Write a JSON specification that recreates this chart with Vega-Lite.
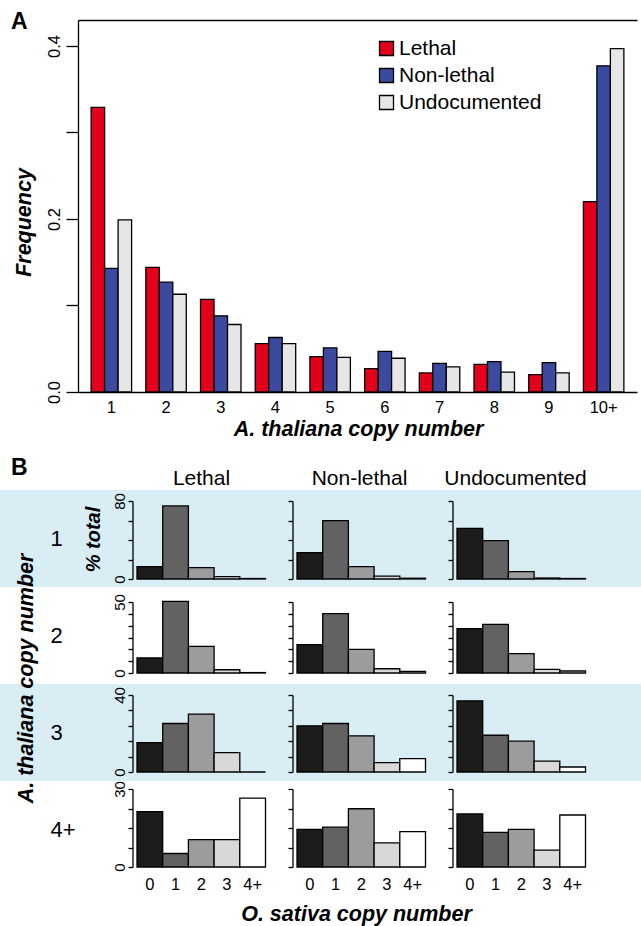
{
  "$schema": "https://vega.github.io/schema/vega-lite/v6.json",
  "width": 641,
  "height": 926,
  "autosize": {"type": "none"},
  "padding": 0,
  "background": "white",
  "config": {
    "font": "Liberation Sans",
    "view": {"stroke": null},
    "axis": {"labelColor": "black", "titleColor": "black", "domainColor": "black", "tickColor": "black", "domainWidth": 1.3, "tickWidth": 1.3, "grid": false, "labelOverlap": false, "labelFlush": false, "labelBound": false, "zindex": 1},
    "legend": {"labelColor": "black"},
    "title": {"color": "black", "subtitleColor": "black"}
  },
  "title": {"text": "A", "subtitle": "B", "anchor": "start", "frame": "group", "offset": 0, "fontSize": 23, "fontWeight": "bold", "subtitleFontSize": 23, "subtitleFontWeight": "bold", "subtitlePadding": 423, "dx": 11, "dy": 480},
  "datasets": {
    "shading": [{"thaliana": "1"}, {"thaliana": "3"}],
    "freq": [
      {"copy": "1", "status": "Lethal", "frequency": 0.329},
      {"copy": "1", "status": "Non-lethal", "frequency": 0.143},
      {"copy": "1", "status": "Undocumented", "frequency": 0.199},
      {"copy": "2", "status": "Lethal", "frequency": 0.144},
      {"copy": "2", "status": "Non-lethal", "frequency": 0.127},
      {"copy": "2", "status": "Undocumented", "frequency": 0.113},
      {"copy": "3", "status": "Lethal", "frequency": 0.107},
      {"copy": "3", "status": "Non-lethal", "frequency": 0.088},
      {"copy": "3", "status": "Undocumented", "frequency": 0.078},
      {"copy": "4", "status": "Lethal", "frequency": 0.056},
      {"copy": "4", "status": "Non-lethal", "frequency": 0.063},
      {"copy": "4", "status": "Undocumented", "frequency": 0.056},
      {"copy": "5", "status": "Lethal", "frequency": 0.041},
      {"copy": "5", "status": "Non-lethal", "frequency": 0.051},
      {"copy": "5", "status": "Undocumented", "frequency": 0.040},
      {"copy": "6", "status": "Lethal", "frequency": 0.027},
      {"copy": "6", "status": "Non-lethal", "frequency": 0.047},
      {"copy": "6", "status": "Undocumented", "frequency": 0.039},
      {"copy": "7", "status": "Lethal", "frequency": 0.022},
      {"copy": "7", "status": "Non-lethal", "frequency": 0.033},
      {"copy": "7", "status": "Undocumented", "frequency": 0.029},
      {"copy": "8", "status": "Lethal", "frequency": 0.032},
      {"copy": "8", "status": "Non-lethal", "frequency": 0.035},
      {"copy": "8", "status": "Undocumented", "frequency": 0.023},
      {"copy": "9", "status": "Lethal", "frequency": 0.020},
      {"copy": "9", "status": "Non-lethal", "frequency": 0.034},
      {"copy": "9", "status": "Undocumented", "frequency": 0.022},
      {"copy": "10+", "status": "Lethal", "frequency": 0.220},
      {"copy": "10+", "status": "Non-lethal", "frequency": 0.377},
      {"copy": "10+", "status": "Undocumented", "frequency": 0.397}
    ],
    "dist": [
      {"thaliana": "1", "status": "Lethal", "sativa": "0", "percent": 12.6},
      {"thaliana": "1", "status": "Lethal", "sativa": "1", "percent": 74.9},
      {"thaliana": "1", "status": "Lethal", "sativa": "2", "percent": 11.6},
      {"thaliana": "1", "status": "Lethal", "sativa": "3", "percent": 2.4},
      {"thaliana": "1", "status": "Lethal", "sativa": "4+", "percent": 0.5},
      {"thaliana": "1", "status": "Non-lethal", "sativa": "0", "percent": 27.0},
      {"thaliana": "1", "status": "Non-lethal", "sativa": "1", "percent": 59.8},
      {"thaliana": "1", "status": "Non-lethal", "sativa": "2", "percent": 12.6},
      {"thaliana": "1", "status": "Non-lethal", "sativa": "3", "percent": 3.0},
      {"thaliana": "1", "status": "Non-lethal", "sativa": "4+", "percent": 0.8},
      {"thaliana": "1", "status": "Undocumented", "sativa": "0", "percent": 52.0},
      {"thaliana": "1", "status": "Undocumented", "sativa": "1", "percent": 39.3},
      {"thaliana": "1", "status": "Undocumented", "sativa": "2", "percent": 7.5},
      {"thaliana": "1", "status": "Undocumented", "sativa": "3", "percent": 1.0},
      {"thaliana": "1", "status": "Undocumented", "sativa": "4+", "percent": 0.5},
      {"thaliana": "2", "status": "Lethal", "sativa": "0", "percent": 10.6},
      {"thaliana": "2", "status": "Lethal", "sativa": "1", "percent": 50.5},
      {"thaliana": "2", "status": "Lethal", "sativa": "2", "percent": 18.8},
      {"thaliana": "2", "status": "Lethal", "sativa": "3", "percent": 2.3},
      {"thaliana": "2", "status": "Lethal", "sativa": "4+", "percent": 0.3},
      {"thaliana": "2", "status": "Non-lethal", "sativa": "0", "percent": 20.0},
      {"thaliana": "2", "status": "Non-lethal", "sativa": "1", "percent": 41.8},
      {"thaliana": "2", "status": "Non-lethal", "sativa": "2", "percent": 16.7},
      {"thaliana": "2", "status": "Non-lethal", "sativa": "3", "percent": 3.0},
      {"thaliana": "2", "status": "Non-lethal", "sativa": "4+", "percent": 1.2},
      {"thaliana": "2", "status": "Undocumented", "sativa": "0", "percent": 31.3},
      {"thaliana": "2", "status": "Undocumented", "sativa": "1", "percent": 34.3},
      {"thaliana": "2", "status": "Undocumented", "sativa": "2", "percent": 13.7},
      {"thaliana": "2", "status": "Undocumented", "sativa": "3", "percent": 2.6},
      {"thaliana": "2", "status": "Undocumented", "sativa": "4+", "percent": 1.4},
      {"thaliana": "3", "status": "Lethal", "sativa": "0", "percent": 15.3},
      {"thaliana": "3", "status": "Lethal", "sativa": "1", "percent": 25.2},
      {"thaliana": "3", "status": "Lethal", "sativa": "2", "percent": 30.1},
      {"thaliana": "3", "status": "Lethal", "sativa": "3", "percent": 10.1},
      {"thaliana": "3", "status": "Lethal", "sativa": "4+", "percent": 0.0},
      {"thaliana": "3", "status": "Non-lethal", "sativa": "0", "percent": 24.0},
      {"thaliana": "3", "status": "Non-lethal", "sativa": "1", "percent": 25.2},
      {"thaliana": "3", "status": "Non-lethal", "sativa": "2", "percent": 18.8},
      {"thaliana": "3", "status": "Non-lethal", "sativa": "3", "percent": 4.9},
      {"thaliana": "3", "status": "Non-lethal", "sativa": "4+", "percent": 7.0},
      {"thaliana": "3", "status": "Undocumented", "sativa": "0", "percent": 37.0},
      {"thaliana": "3", "status": "Undocumented", "sativa": "1", "percent": 19.1},
      {"thaliana": "3", "status": "Undocumented", "sativa": "2", "percent": 16.0},
      {"thaliana": "3", "status": "Undocumented", "sativa": "3", "percent": 5.7},
      {"thaliana": "3", "status": "Undocumented", "sativa": "4+", "percent": 2.6},
      {"thaliana": "4+", "status": "Lethal", "sativa": "0", "percent": 21.3},
      {"thaliana": "4+", "status": "Lethal", "sativa": "1", "percent": 5.2},
      {"thaliana": "4+", "status": "Lethal", "sativa": "2", "percent": 10.5},
      {"thaliana": "4+", "status": "Lethal", "sativa": "3", "percent": 10.5},
      {"thaliana": "4+", "status": "Lethal", "sativa": "4+", "percent": 26.5},
      {"thaliana": "4+", "status": "Non-lethal", "sativa": "0", "percent": 14.5},
      {"thaliana": "4+", "status": "Non-lethal", "sativa": "1", "percent": 15.3},
      {"thaliana": "4+", "status": "Non-lethal", "sativa": "2", "percent": 22.4},
      {"thaliana": "4+", "status": "Non-lethal", "sativa": "3", "percent": 9.3},
      {"thaliana": "4+", "status": "Non-lethal", "sativa": "4+", "percent": 13.6},
      {"thaliana": "4+", "status": "Undocumented", "sativa": "0", "percent": 20.4},
      {"thaliana": "4+", "status": "Undocumented", "sativa": "1", "percent": 13.3},
      {"thaliana": "4+", "status": "Undocumented", "sativa": "2", "percent": 14.5},
      {"thaliana": "4+", "status": "Undocumented", "sativa": "3", "percent": 6.5},
      {"thaliana": "4+", "status": "Undocumented", "sativa": "4+", "percent": 20.0}
    ]
  },
  "layer": [
    {
      "data": {"name": "shading"},
      "mark": {"type": "rect", "color": "#d9edf5"},
      "encoding": {
        "y": {"field": "thaliana", "type": "ordinal",
          "scale": {"domain": ["1", "2", "3", "4+"], "range": [490, 878], "paddingInner": 0, "paddingOuter": 0},
          "axis": {"orient": "left", "offset": -50, "zindex": 2, "domain": false, "ticks": false, "tickSize": 0, "labelPadding": 0, "labelAlign": "left", "labelBaseline": "middle", "labelFontSize": 22, "labelAngle": 0,
            "title": "A. thaliana copy number", "titleFontSize": 21.5, "titleFontWeight": "bold", "titleFontStyle": "italic", "titleAngle": -90, "titleBaseline": "middle", "titleAlign": "center", "titleX": -24, "titleY": 678}}
      }
    },
    {
      "data": {"name": "freq"},
      "mark": {"type": "bar", "stroke": "black", "strokeWidth": 1.3},
      "encoding": {
        "x": {"field": "copy", "type": "ordinal",
          "scale": {"domain": ["1", "2", "3", "4", "5", "6", "7", "8", "9", "10+"], "range": [78, 637], "paddingInner": 0.26, "paddingOuter": 0.24},
          "axis": {"orient": "bottom", "offset": -534, "ticks": false, "tickSize": 0, "labelPadding": 7, "labelFontSize": 16.5, "labelAngle": 0,
            "title": "A. thaliana copy number", "titleFontSize": 21.5, "titleFontWeight": "bold", "titleFontStyle": "italic", "titleBaseline": "middle", "titleX": 358, "titleY": 37}},
        "xOffset": {"field": "status", "type": "nominal", "scale": {"domain": ["Lethal", "Non-lethal", "Undocumented"], "paddingInner": 0, "paddingOuter": 0}},
        "y": {"field": "frequency", "type": "quantitative",
          "scale": {"domain": [0, 0.43], "range": [392, 20], "nice": false},
          "axis": {"orient": "left", "offset": -78, "values": [0, 0.1, 0.2, 0.3, 0.4, 0.43], "tickSize": 12,
            "tickOpacity": {"condition": {"test": "datum.value > 0.42", "value": 0}, "value": 1},
            "grid": true, "gridColor": "black", "gridWidth": 1.3,
            "gridOpacity": {"condition": {"test": "datum.value > 0.42", "value": 1}, "value": 0},
            "labelExpr": "datum.value == 0 ? '0.0' : datum.value == 0.2 ? '0.2' : datum.value == 0.4 ? '0.4' : ''",
            "labelAngle": -90, "labelAlign": "center", "labelBaseline": "middle", "labelPadding": 11.5, "labelFontSize": 16.5,
            "title": "Frequency", "titleFontSize": 21.5, "titleFontWeight": "bold", "titleFontStyle": "italic", "titleAngle": -90, "titleBaseline": "middle", "titleAlign": "center", "titleX": -54, "titleY": 222}},
        "color": {"field": "status", "type": "nominal",
          "scale": {"domain": ["Lethal", "Non-lethal", "Undocumented"], "range": ["#e2001a", "#3b4a9e", "#e6e6e6"]},
          "legend": {"orient": "none", "legendX": 376, "legendY": 38, "title": null, "symbolType": "square", "symbolSize": 196, "symbolStrokeColor": "black", "symbolStrokeWidth": 1.3, "symbolOpacity": 1, "labelFontSize": 21, "labelOffset": 2, "rowPadding": 5, "padding": 0}}
      }
    },
    {
      "data": {"name": "dist"},
      "transform": [{"filter": "datum.thaliana == '1' && datum.status == 'Lethal'"}],
      "mark": {"type": "bar", "stroke": "black", "strokeWidth": 1.3},
      "encoding": {
        "x": {"field": "sativa", "type": "ordinal", "scale": {"domain": ["0", "1", "2", "3", "4+"], "range": [137, 265.5], "paddingInner": 0, "paddingOuter": 0},
          "axis": {"orient": "top", "offset": -488, "domain": false, "ticks": false, "tickSize": 0, "labels": false, "title": "Lethal", "titleFontSize": 21, "titleFontWeight": "normal", "titleBaseline": "middle", "titleX": 201, "titleY": -10}},
        "y": {"field": "percent", "type": "quantitative", "scale": {"domain": [0, 80], "range": [579, 501], "nice": false},
          "axis": {"orient": "left", "offset": -132.5, "zindex": 2, "values": [0, 20, 40, 60, 80], "tickSize": 4.5, "labelAngle": -90, "labelAlign": "center", "labelBaseline": "middle", "labelPadding": 8.5, "labelFontSize": 15,
            "labelExpr": "datum.value == 0 || datum.value == 80 ? datum.label : ''",
            "title": "% total", "titleFontSize": 20, "titleFontWeight": "bold", "titleFontStyle": "italic", "titleAngle": -90, "titleBaseline": "middle", "titleAlign": "center", "titleX": -39.5, "titleY": 539}},
        "fill": {"field": "sativa", "type": "ordinal", "scale": {"domain": ["0", "1", "2", "3", "4+"], "range": ["#1c1c1a", "#626262", "#9c9c9c", "#d8d8d8", "#ffffff"]}, "legend": null}
      }
    },
    {
      "data": {"name": "dist"},
      "transform": [{"filter": "datum.thaliana == '1' && datum.status == 'Non-lethal'"}],
      "mark": {"type": "bar", "stroke": "black", "strokeWidth": 1.3},
      "encoding": {
        "x": {"field": "sativa", "type": "ordinal", "scale": {"domain": ["0", "1", "2", "3", "4+"], "range": [297, 425.5], "paddingInner": 0, "paddingOuter": 0},
          "axis": {"orient": "top", "offset": -488, "domain": false, "ticks": false, "tickSize": 0, "labels": false, "title": "Non-lethal", "titleFontSize": 21, "titleFontWeight": "normal", "titleBaseline": "middle", "titleX": 359, "titleY": -10}},
        "y": {"field": "percent", "type": "quantitative", "scale": {"domain": [0, 80], "range": [579, 501], "nice": false},
          "axis": {"orient": "left", "offset": -292.5, "zindex": 2, "values": [0, 20, 40, 60, 80], "tickSize": 4.5, "labels": false, "title": null}},
        "fill": {"field": "sativa", "type": "ordinal", "scale": {"domain": ["0", "1", "2", "3", "4+"], "range": ["#1c1c1a", "#626262", "#9c9c9c", "#d8d8d8", "#ffffff"]}, "legend": null}
      }
    },
    {
      "data": {"name": "dist"},
      "transform": [{"filter": "datum.thaliana == '1' && datum.status == 'Undocumented'"}],
      "mark": {"type": "bar", "stroke": "black", "strokeWidth": 1.3},
      "encoding": {
        "x": {"field": "sativa", "type": "ordinal", "scale": {"domain": ["0", "1", "2", "3", "4+"], "range": [457, 585.5], "paddingInner": 0, "paddingOuter": 0},
          "axis": {"orient": "top", "offset": -488, "domain": false, "ticks": false, "tickSize": 0, "labels": false, "title": "Undocumented", "titleFontSize": 21, "titleFontWeight": "normal", "titleBaseline": "middle", "titleX": 515, "titleY": -10}},
        "y": {"field": "percent", "type": "quantitative", "scale": {"domain": [0, 80], "range": [579, 501], "nice": false},
          "axis": {"orient": "left", "offset": -452.5, "zindex": 2, "values": [0, 20, 40, 60, 80], "tickSize": 4.5, "labels": false, "title": null}},
        "fill": {"field": "sativa", "type": "ordinal", "scale": {"domain": ["0", "1", "2", "3", "4+"], "range": ["#1c1c1a", "#626262", "#9c9c9c", "#d8d8d8", "#ffffff"]}, "legend": null}
      }
    },
    {
      "data": {"name": "dist"},
      "transform": [{"filter": "datum.thaliana == '2' && datum.status == 'Lethal'"}],
      "mark": {"type": "bar", "stroke": "black", "strokeWidth": 1.3},
      "encoding": {
        "x": {"field": "sativa", "type": "ordinal", "scale": {"domain": ["0", "1", "2", "3", "4+"], "range": [137, 265.5], "paddingInner": 0, "paddingOuter": 0}, "axis": null},
        "y": {"field": "percent", "type": "quantitative", "scale": {"domain": [0, 50], "range": [673, 602], "nice": false},
          "axis": {"orient": "left", "offset": -132.5, "zindex": 2, "values": [0, 8.3333, 16.6667, 25, 33.3333, 41.6667, 50], "tickSize": 4.5, "labelAngle": -90, "labelAlign": "center", "labelBaseline": "middle", "labelPadding": 8.5, "labelFontSize": 15,
            "labelExpr": "datum.value == 0 ? '0' : datum.value == 50 ? '50' : ''", "title": null}},
        "fill": {"field": "sativa", "type": "ordinal", "scale": {"domain": ["0", "1", "2", "3", "4+"], "range": ["#1c1c1a", "#626262", "#9c9c9c", "#d8d8d8", "#ffffff"]}, "legend": null}
      }
    },
    {
      "data": {"name": "dist"},
      "transform": [{"filter": "datum.thaliana == '2' && datum.status == 'Non-lethal'"}],
      "mark": {"type": "bar", "stroke": "black", "strokeWidth": 1.3},
      "encoding": {
        "x": {"field": "sativa", "type": "ordinal", "scale": {"domain": ["0", "1", "2", "3", "4+"], "range": [297, 425.5], "paddingInner": 0, "paddingOuter": 0}, "axis": null},
        "y": {"field": "percent", "type": "quantitative", "scale": {"domain": [0, 50], "range": [673, 602], "nice": false},
          "axis": {"orient": "left", "offset": -292.5, "zindex": 2, "values": [0, 8.3333, 16.6667, 25, 33.3333, 41.6667, 50], "tickSize": 4.5, "labels": false, "title": null}},
        "fill": {"field": "sativa", "type": "ordinal", "scale": {"domain": ["0", "1", "2", "3", "4+"], "range": ["#1c1c1a", "#626262", "#9c9c9c", "#d8d8d8", "#ffffff"]}, "legend": null}
      }
    },
    {
      "data": {"name": "dist"},
      "transform": [{"filter": "datum.thaliana == '2' && datum.status == 'Undocumented'"}],
      "mark": {"type": "bar", "stroke": "black", "strokeWidth": 1.3},
      "encoding": {
        "x": {"field": "sativa", "type": "ordinal", "scale": {"domain": ["0", "1", "2", "3", "4+"], "range": [457, 585.5], "paddingInner": 0, "paddingOuter": 0}, "axis": null},
        "y": {"field": "percent", "type": "quantitative", "scale": {"domain": [0, 50], "range": [673, 602], "nice": false},
          "axis": {"orient": "left", "offset": -452.5, "zindex": 2, "values": [0, 8.3333, 16.6667, 25, 33.3333, 41.6667, 50], "tickSize": 4.5, "labels": false, "title": null}},
        "fill": {"field": "sativa", "type": "ordinal", "scale": {"domain": ["0", "1", "2", "3", "4+"], "range": ["#1c1c1a", "#626262", "#9c9c9c", "#d8d8d8", "#ffffff"]}, "legend": null}
      }
    },
    {
      "data": {"name": "dist"},
      "transform": [{"filter": "datum.thaliana == '3' && datum.status == 'Lethal'"}],
      "mark": {"type": "bar", "stroke": "black", "strokeWidth": 1.3},
      "encoding": {
        "x": {"field": "sativa", "type": "ordinal", "scale": {"domain": ["0", "1", "2", "3", "4+"], "range": [137, 265.5], "paddingInner": 0, "paddingOuter": 0}, "axis": null},
        "y": {"field": "percent", "type": "quantitative", "scale": {"domain": [0, 40], "range": [772, 695], "nice": false},
          "axis": {"orient": "left", "offset": -132.5, "zindex": 2, "values": [0, 8, 16, 24, 32, 40], "tickSize": 4.5, "labelAngle": -90, "labelAlign": "center", "labelBaseline": "middle", "labelPadding": 8.5, "labelFontSize": 15,
            "labelExpr": "datum.value == 0 ? '0' : datum.value == 40 ? '40' : ''", "title": null}},
        "fill": {"field": "sativa", "type": "ordinal", "scale": {"domain": ["0", "1", "2", "3", "4+"], "range": ["#1c1c1a", "#626262", "#9c9c9c", "#d8d8d8", "#ffffff"]}, "legend": null}
      }
    },
    {
      "data": {"name": "dist"},
      "transform": [{"filter": "datum.thaliana == '3' && datum.status == 'Non-lethal'"}],
      "mark": {"type": "bar", "stroke": "black", "strokeWidth": 1.3},
      "encoding": {
        "x": {"field": "sativa", "type": "ordinal", "scale": {"domain": ["0", "1", "2", "3", "4+"], "range": [297, 425.5], "paddingInner": 0, "paddingOuter": 0}, "axis": null},
        "y": {"field": "percent", "type": "quantitative", "scale": {"domain": [0, 40], "range": [772, 695], "nice": false},
          "axis": {"orient": "left", "offset": -292.5, "zindex": 2, "values": [0, 8, 16, 24, 32, 40], "tickSize": 4.5, "labels": false, "title": null}},
        "fill": {"field": "sativa", "type": "ordinal", "scale": {"domain": ["0", "1", "2", "3", "4+"], "range": ["#1c1c1a", "#626262", "#9c9c9c", "#d8d8d8", "#ffffff"]}, "legend": null}
      }
    },
    {
      "data": {"name": "dist"},
      "transform": [{"filter": "datum.thaliana == '3' && datum.status == 'Undocumented'"}],
      "mark": {"type": "bar", "stroke": "black", "strokeWidth": 1.3},
      "encoding": {
        "x": {"field": "sativa", "type": "ordinal", "scale": {"domain": ["0", "1", "2", "3", "4+"], "range": [457, 585.5], "paddingInner": 0, "paddingOuter": 0}, "axis": null},
        "y": {"field": "percent", "type": "quantitative", "scale": {"domain": [0, 40], "range": [772, 695], "nice": false},
          "axis": {"orient": "left", "offset": -452.5, "zindex": 2, "values": [0, 8, 16, 24, 32, 40], "tickSize": 4.5, "labels": false, "title": null}},
        "fill": {"field": "sativa", "type": "ordinal", "scale": {"domain": ["0", "1", "2", "3", "4+"], "range": ["#1c1c1a", "#626262", "#9c9c9c", "#d8d8d8", "#ffffff"]}, "legend": null}
      }
    },
    {
      "data": {"name": "dist"},
      "transform": [{"filter": "datum.thaliana == '4+' && datum.status == 'Lethal'"}],
      "mark": {"type": "bar", "stroke": "black", "strokeWidth": 1.3},
      "encoding": {
        "x": {"field": "sativa", "type": "ordinal", "scale": {"domain": ["0", "1", "2", "3", "4+"], "range": [137, 265.5], "paddingInner": 0, "paddingOuter": 0},
          "axis": {"orient": "bottom", "offset": -59, "domain": false, "ticks": false, "tickSize": 0, "labelPadding": 9, "labelFontSize": 16.5, "labelAngle": 0, "title": null}},
        "y": {"field": "percent", "type": "quantitative", "scale": {"domain": [0, 30], "range": [867, 789], "nice": false},
          "axis": {"orient": "left", "offset": -132.5, "zindex": 2, "values": [0, 7.5, 15, 22.5, 30], "tickSize": 4.5, "labelAngle": -90, "labelAlign": "center", "labelBaseline": "middle", "labelPadding": 8.5, "labelFontSize": 15,
            "labelExpr": "datum.value == 0 ? '0' : datum.value == 30 ? '30' : ''", "title": null}},
        "fill": {"field": "sativa", "type": "ordinal", "scale": {"domain": ["0", "1", "2", "3", "4+"], "range": ["#1c1c1a", "#626262", "#9c9c9c", "#d8d8d8", "#ffffff"]}, "legend": null}
      }
    },
    {
      "data": {"name": "dist"},
      "transform": [{"filter": "datum.thaliana == '4+' && datum.status == 'Non-lethal'"}],
      "mark": {"type": "bar", "stroke": "black", "strokeWidth": 1.3},
      "encoding": {
        "x": {"field": "sativa", "type": "ordinal", "scale": {"domain": ["0", "1", "2", "3", "4+"], "range": [297, 425.5], "paddingInner": 0, "paddingOuter": 0},
          "axis": {"orient": "bottom", "offset": -59, "domain": false, "ticks": false, "tickSize": 0, "labelPadding": 9, "labelFontSize": 16.5, "labelAngle": 0,
            "title": "O. sativa copy number", "titleFontSize": 21.5, "titleFontWeight": "bold", "titleFontStyle": "italic", "titleBaseline": "middle", "titleX": 356, "titleY": 47}},
        "y": {"field": "percent", "type": "quantitative", "scale": {"domain": [0, 30], "range": [867, 789], "nice": false},
          "axis": {"orient": "left", "offset": -292.5, "zindex": 2, "values": [0, 7.5, 15, 22.5, 30], "tickSize": 4.5, "labels": false, "title": null}},
        "fill": {"field": "sativa", "type": "ordinal", "scale": {"domain": ["0", "1", "2", "3", "4+"], "range": ["#1c1c1a", "#626262", "#9c9c9c", "#d8d8d8", "#ffffff"]}, "legend": null}
      }
    },
    {
      "data": {"name": "dist"},
      "transform": [{"filter": "datum.thaliana == '4+' && datum.status == 'Undocumented'"}],
      "mark": {"type": "bar", "stroke": "black", "strokeWidth": 1.3},
      "encoding": {
        "x": {"field": "sativa", "type": "ordinal", "scale": {"domain": ["0", "1", "2", "3", "4+"], "range": [457, 585.5], "paddingInner": 0, "paddingOuter": 0},
          "axis": {"orient": "bottom", "offset": -59, "domain": false, "ticks": false, "tickSize": 0, "labelPadding": 9, "labelFontSize": 16.5, "labelAngle": 0, "title": null}},
        "y": {"field": "percent", "type": "quantitative", "scale": {"domain": [0, 30], "range": [867, 789], "nice": false},
          "axis": {"orient": "left", "offset": -452.5, "zindex": 2, "values": [0, 7.5, 15, 22.5, 30], "tickSize": 4.5, "labels": false, "title": null}},
        "fill": {"field": "sativa", "type": "ordinal", "scale": {"domain": ["0", "1", "2", "3", "4+"], "range": ["#1c1c1a", "#626262", "#9c9c9c", "#d8d8d8", "#ffffff"]}, "legend": null}
      }
    }
  ],
  "resolve": {"scale": {"x": "independent", "y": "independent"}, "axis": {"x": "independent", "y": "independent"}}
}
